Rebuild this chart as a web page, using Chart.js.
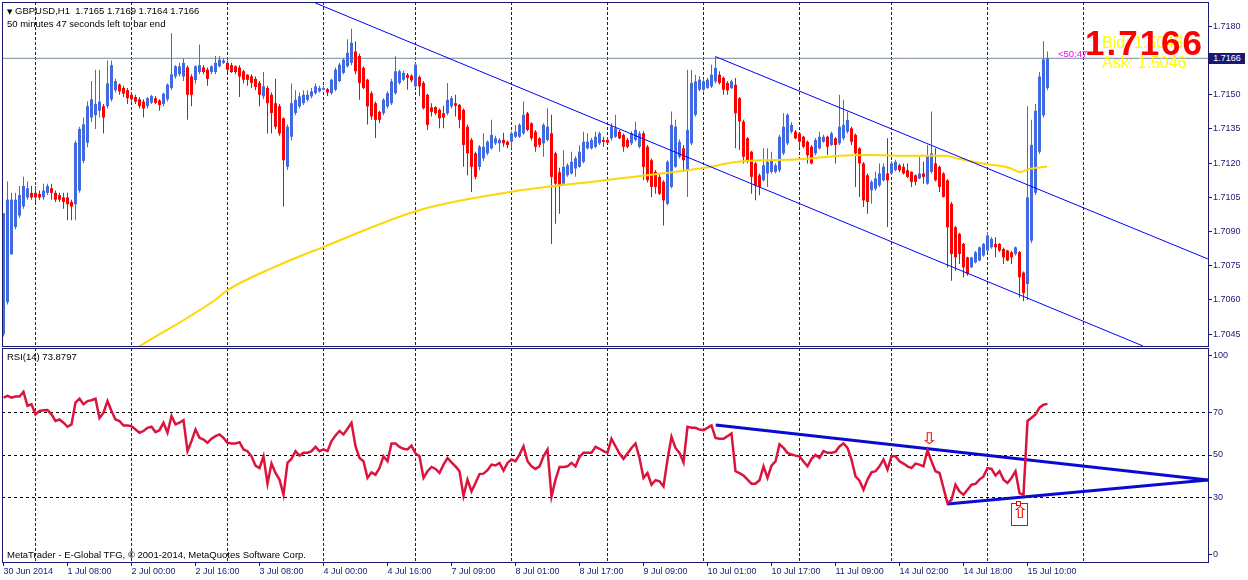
<!DOCTYPE html>
<html>
<head>
<meta charset="utf-8">
<title>GBPUSD,H1</title>
<script src="https://cdn.jsdelivr.net/npm/chart.js@4.4.1/dist/chart.umd.min.js"></script>
<style>
  body { margin: 0; background: #fff; }
  #wrap { position: relative; width: 1248px; height: 580px; overflow: hidden; font-family: "Liberation Sans", Arial, sans-serif; }
  canvas { position: absolute; left: 0; }
  .txt { position: absolute; white-space: nowrap; line-height: 1; pointer-events: none; }
  .arrow { font-family: "DejaVu Sans"; font-size: 16px; color: #ff0000; transform: scaleX(1.35); transform-origin: left top; }
</style>
</head>
<body>
<div id="wrap">
  <canvas id="price-chart" width="1248" height="348" style="top:0"></canvas>
  <canvas id="rsi-chart" width="1248" height="232" style="top:348px"></canvas>

  <div class="txt" style="left:7px;top:6px;font-size:9.5px;color:#000"><span style="font-family:'DejaVu Sans';font-size:7px">&#9660;</span>&nbsp;GBPUSD,H1&nbsp; 1.7165 1.7169 1.7164 1.7166</div>
  <div class="txt" style="left:7px;top:18.7px;font-size:9.5px;color:#000">50 minutes 47 seconds left to bar end</div>
  <div class="txt" style="left:7px;top:352px;font-size:9.5px;color:#000">RSI(14) 73.8797</div>
  <div class="txt" style="left:7px;top:549.7px;font-size:9.5px;color:#000">MetaTrader - E-Global TFG, © 2001-2014, MetaQuotes Software Corp.</div>

  <div class="txt" style="left:1102px;top:35px;font-size:16px;color:#ffff00">Bid: 1.5043</div>
  <div class="txt" style="left:1085px;top:24.7px;font-size:35px;font-weight:bold;letter-spacing:2px;color:#ff0000">1.7166</div>
  <div class="txt" style="left:1102px;top:55px;font-size:16px;color:#ffff00">Ask: 1.5046</div>
  <div class="txt" style="left:1058px;top:48.7px;font-size:9.5px;color:#ff00ff">&lt;50:47</div>
  <div class="txt" style="left:1209px;top:52.5px;width:36px;height:11px;background:#191970;color:#fff;font-size:9px;line-height:11px;text-align:center">1.7166</div>

  <div class="txt arrow" style="left:920px;top:431px">&#8681;</div>
  <div class="txt" style="left:1011px;top:503px;width:17px;height:23px;border:1px solid #ff0000;box-sizing:border-box"></div>
  <div class="txt" style="left:1016px;top:501px;width:5px;height:5px;border:1px solid #ff0000;background:#fff;box-sizing:border-box"></div>
  <div class="txt arrow" style="left:1011px;top:505px">&#8679;</div>
</div>

<script>
// Heiken Ashi bars, in pips above 1.7000
const haOpen = [45,59,80,92,97,101,105,107,107,106.5,
  105,107,109,107,106,105,105,103,102,108,
  121,129,140,141,143,145,145,148,152,154.5,
  153,152,150,149,148,147,145,146.5,148.5,147.5,
  146,148,153,158,159,158,162,158,156.5,160,
  162,161,160,160,162.5,164,164,163,162.5,162,
  160.3,158.8,158.1,157,155.2,149.3,153,150,146.3,145,
  139.7,118.4,131.6,142,144.9,146.3,147.8,149.3,150.7,151.5,
  152.2,152.5,150.7,152.2,156,159.6,162.5,164,169,167,
  161.8,156.6,150.7,146.3,142.5,141.9,144.9,146.3,150.7,155.2,
  156.6,158.8,158.4,153.7,157.8,155.2,150,144.5,144.6,143.4,
  141.9,141.9,144.9,146.3,145.6,143.4,136,130.2,124.3,118.4,
  122.1,124.3,126.5,128.7,128.7,130.2,129.4,129.4,131.6,131.6,
  133.1,141.9,137.5,133.8,130.9,128.7,130.2,133.1,124.3,116,
  111,114.7,115.5,117.7,118.4,120.6,126.5,126.5,127.2,128.7,
  130.2,130.2,130.9,131.6,133.8,132.4,130.2,128.7,130.2,127.2,
  133.1,127.2,121.3,116.2,114,111.8,102.2,109.6,118.4,122.8,
  126.5,116.9,128.7,141.2,152.2,152.2,153,153.7,155.9,158.8,
  157.4,155.2,152.9,154.4,148.5,138.3,130.9,125,119.9,114.7,
  112.5,115.5,116.2,116.2,116.9,124.3,128.7,133.8,133.8,133.1,
  131.6,129.4,127.2,124.3,126.5,129.4,131.6,128,130.9,128.7,
  130.9,133.8,135.3,132.4,126.5,119.9,114.7,108.1,108.8,110.3,
  112.5,115.5,115.5,116.9,119.1,118.4,116.9,116.2,114.7,113.3,
  115.5,111,116.2,119.9,118.4,115.5,112.5,102.2,91.9,89,
  84.6,78.7,74.3,76.5,77.3,79.5,81.7,83.1,84.6,84.6,
  82.4,81.7,80.9,80.2,81,72,67,86,107,125,
  141,153];
const haHigh = [98,112,107,107,110,114,112,110,110,108,
  111,111,111,108,107,107,107,104,130,136,
  140,147,156,161,161,146,165,165,157,155,
  154,153,151,150,149,148,149,150,149.5,148,
  151,155,177,163,164,166,163,159,163,172,
  163,162,163,167,167,166,165,164,163,163,
  161,159,159,158,156,160,154,151,157,146,
  140,137,155,152,151,152,152,153,155,154,
  154,153,157,162,164,166,174.3,179,173.5,168,
  162.5,157,151.5,147,143,148.5,151.5,157,166.9,161,
  160.5,159.5,159,164,158.5,156,150.5,146.3,145,144,
  145.2,155.2,149.5,150,146,144,137,131,125,128,
  133.1,130,139,132,131,133.4,130,134,136.8,137.5,
  147,142.5,138,134.5,131.5,137.5,144.1,141.2,125,118,
  125.7,120,125,123,127.9,133.8,133.1,131,133.8,133.8,
  131.6,131,137.5,141.2,134.5,133,131,134,138.3,134,
  134,128,122,117,115,112.5,121.3,142.7,139,130.5,
  128,161,161,158.8,158.1,157,157.5,163.2,166.9,160.3,
  158,156,156.6,157.4,149,139,131.5,125.5,120.5,115.5,
  126.5,126.5,125,120,132.5,141.9,141.9,138,134.5,133.5,
  132,130,128,131,133.8,132.5,132,133.8,131.5,150,
  147.8,142.7,136,133,127,120.5,115.5,112.5,116.2,119.9,
  119.9,130.9,121,121.5,119.9,119.9,119.9,116.5,115,122.8,
  120.6,128,142.7,126.5,119,116,113,103,92.5,89.5,
  85,79,79,81.5,83.5,85,89.7,87.5,87.5,85,
  83,82,81.5,83.5,81.5,72.5,145,139,146,160,
  173.5,169];
const haLow = [44,58,80,91,96,100,104,104,103,104,
  104,106,104,103,103,100,95,95,95,107,
  120,127,138,135,140,133,144,147,151,150,
  149,146,147,146,144,140,144,146,146,143,
  145,147,152,157,158,156,139,145,155,159,
  159,154,159,159,162,163.5,160,159.5,159,149,
  155,154,153,152,145,148,133,133,135,132,
  101,117,130,141,144,145.5,147,148.5,150,151,
  152,149.5,150,151.5,155.5,159,162,163,159,147.8,
  152.5,137,139,131,137.5,141,144,145.5,150,154.5,
  156,152.2,155.5,153,149.3,143.5,134.6,140.5,141,135.3,
  135.3,141,144,140.5,135.3,118.4,114.7,107.4,113,116.9,
  121,123.5,126,128,125,127.2,126.5,126.5,131,131,
  132.5,134,130,125,127,122.8,129.5,84.6,93.4,97.8,
  110,114,115,114,118,120,126,126,126.5,128,
  127.2,128.5,130,131,130.5,125,126.5,128,129.5,126.5,
  112.5,111.5,105.2,106.6,106,92.7,101.5,109,118,122,
  116.2,105.2,128,140.5,151.5,151.5,152.5,153,155,154.5,
  150,150,152.5,126.5,125.8,119.9,120,106.6,103.7,105.9,
  112,109.6,115.5,115.5,116,123.5,128,133,130.5,126.5,
  126.5,119.9,119.5,123.5,126,129,123.5,127.5,119.9,128,
  130,133,128,109.6,105.2,100.8,97.8,102.2,108,109.5,
  112,92,115,116.5,116,115,113.5,109.6,110.3,113,
  111,110.5,115.5,112,107.4,105,74.3,68.4,72.8,75.8,
  69.9,70.6,74,76,77,79,81,82.5,78.7,81,
  75.8,77,75.8,79.5,61,59.5,60,85,106,124,
  140,152];
const haClose = [98,104,104,104,106,110,109,105,105,105,
  108,110,107,104,104,103,102,101,129,135,
  137,145,148,146,147,140,155,163,156,151.5,
  150.5,148.5,148,147,145,144,148.5,149.5,146.5,145.5,
  150.5,154.5,159,162.5,162.5,164,150,150,162.5,163,
  160,157,162.5,164,165.4,165,161,160,160,158,
  156.6,156.6,155.2,153.4,150,153.7,146.3,142,136,133,
  121.3,136,146.3,147.8,149.3,150,150,151.5,153.7,153,
  153,151,156.6,161,163.2,165.4,168.4,172.8,160.3,155.2,
  153,144.9,140.5,139,139,147.8,150.7,155.9,160.3,160.3,
  159.6,157.4,156.3,163.2,153.7,144.1,136.8,142.5,141.9,139.7,
  140,147.8,148.5,145.2,139,128,124.3,118.4,114,127.2,
  127.2,129.4,132.4,130.9,130.2,128.7,128,133.1,133.8,136.8,
  141.2,134.6,130.9,127.2,128,136.8,136,114,111,110.3,
  118.4,119.1,120.6,122.1,125,129.4,129.4,130.2,131.6,133.1,
  129.4,129,136,135.3,130.9,127.2,127.2,133.1,134.6,133.1,
  118.4,112.5,109.6,109.6,106.6,103.7,120.6,136.8,136,129.4,
  121.3,134.6,155.2,155.9,156.6,155.9,156.6,158.8,161.8,155.2,
  152.2,151.9,155.9,141.9,138.3,122.8,120.6,114,110.3,109.6,
  119.1,120.6,121.3,119.1,131.6,136,141.2,136.8,130.9,129.4,
  127.2,123.5,119.9,130.2,131.6,131.6,127.2,133.1,128,136,
  136.8,139,129.4,124.3,119.9,103.7,103,111.8,113.3,115.5,
  118.4,112.5,119.9,120.6,116.9,115.5,114,111.8,111.8,115.5,
  114,123.5,124.3,112.5,109.6,105.2,91.9,80.2,78.7,80.2,
  74.3,71.4,78.7,80.9,83.1,84.6,88.3,86.8,83.1,81.7,
  78.7,77.3,78.7,83.1,70,63,105,128,143,158,
  165.5,166];

// RSI(14), one value per bar
const rsiValues = [76.8,77.6,76.8,77.3,77.3,79.5,73,73.7,69,70.6,
  70.9,71,69,65.9,66.6,65.1,63.2,64.3,74.5,76.3,
  73.7,75.2,75.6,76.3,67.3,69.8,75.2,70.6,66.6,65.9,
  63.8,63.8,63.5,61.9,60.4,61.2,62.7,63.2,60.7,61.6,
  65.1,60.4,68.2,64.3,65.1,66.3,51.8,56.5,61.9,58,
  57.2,55.7,57.6,58.8,59.6,58,55.7,55.4,55.4,56,
  52.6,51.8,49.4,45,43.9,49.4,36.6,46,41.6,38.5,
  31.4,46.3,48.2,51.8,49.7,51,51,51.8,53.8,51.8,
  52.6,51.8,56.5,59.1,61.2,59.6,62.3,65.1,54.1,48.6,
  47.1,39.3,41.9,40.8,43.9,49.4,47.1,55.4,55.4,53.8,
  52.9,52.6,54.4,50.7,49.4,39.3,42.4,44.4,43.5,41.6,
  45.5,48.6,46.6,44.7,42.4,30.9,38.5,33,36.9,41.1,
  41.3,42.9,45.5,45.1,46.3,42.7,46.3,47.9,47.1,50.2,
  54.1,47.1,44.7,43.5,44.7,49.4,52.6,30.6,38.5,44.4,
  44.4,44.7,46.3,44.7,49.1,51,51,51,53.8,52.9,
  51.8,51,57.6,54.1,50.7,48.2,50.7,53.3,55.4,48.6,
  39.3,41.6,36.1,38.2,37.7,35.3,47.9,58.5,53.3,51,
  46.6,63.2,62.7,62.7,61.9,61.6,62.7,63.8,58,57.6,
  57.6,58.8,60.1,42.4,41.5,40.4,38.5,36.6,36.6,38.2,
  44.7,39.3,45,47,55,53.3,51,50.2,49.7,49.4,
  47,44.7,48.2,50,48.6,51.8,51,51,51.5,54,
  55.4,53.3,47.9,40,38,33.8,38.5,41.9,42.4,44.7,
  47.9,43.2,49.4,49.4,47.1,46,44.7,43.9,46,45.5,
  44.7,52.2,47,42.4,41.6,34.6,27.5,29.1,36.1,33,
  31.4,33.8,36.1,36.5,38.5,40,43.9,43.5,40.4,42.4,
  38.5,36.9,39.3,42.4,32.2,31.4,65.9,67.4,69,72.1,
  73.5,73.9];

// yellow moving average, sampled at a few bars
const maBars = [30, 34.1, 52.9, 56.1, 67.1, 79.9, 104.1, 127.1, 150.9, 174.9, 184.1, 198.9, 209.1, 216.9, 224.1, 235.4, 239.1, 245.4, 251.6, 254.1, 256.6, 260.9];
const maValues = [1.70354, 1.70398, 1.70600, 1.70644, 1.70740, 1.70832, 1.70995, 1.71075, 1.71126, 1.71179, 1.71207, 1.71217, 1.71233, 1.71236, 1.71233, 1.71233, 1.71218, 1.71196, 1.71179, 1.71161, 1.71175, 1.71185];

// trend lines (bar index, value)
const channelLowBars = [77.9, 284.9], channelLowPrices = [1.71903, 1.70398];
const channelHighBars = [178.05, 301.1], channelHighPrices = [1.71667, 1.70780];
const rsiUpperBars = [178.05, 301.1], rsiUpperValues = [64.0, 38.3];
const rsiLowerBars = [235.9, 301.1], rsiLowerValues = [27.1, 38.3];
const bidPrice = 1.7166;

const timeLabels = ['30 Jun 2014', '1 Jul 08:00', '2 Jul 00:00', '2 Jul 16:00', '3 Jul 08:00', '4 Jul 00:00',
  '4 Jul 16:00', '7 Jul 09:00', '8 Jul 01:00', '8 Jul 17:00', '9 Jul 09:00', '10 Jul 01:00',
  '10 Jul 17:00', '11 Jul 09:00', '14 Jul 02:00', '14 Jul 18:00', '15 Jul 10:00'];
const labelBars = [0, 16, 32, 48, 64, 80, 96, 112, 128, 144, 160, 176, 192, 208, 224, 240, 256];
const daySeparators = [8, 32, 56, 80, 103, 127, 151, 175, 199, 222, 246, 270];
const priceTicks = [1.7045, 1.7060, 1.7075, 1.7090, 1.7105, 1.7120, 1.7135, 1.7150, 1.7165, 1.7180];
// MetaTrader pulls the 0 and 100 captions a little inside the window
const rsiTickLabels = ['0', '30', '50', '70', '100'];
const rsiTickPlaces = [3.3, 30, 50, 70, 96.3];
const rsiLevels = [30, 50, 70];

const NAVY = '#191970', BLUE = '#4169e1', RED = '#ff0000';
const toPrice = p => 1.7 + p / 10000;
const isUp = haOpen.map((o, i) => haClose[i] >= o);
const barColor = ctx => isUp[ctx.dataIndex] ? BLUE : RED;
const pts = (xs, ys) => xs.map((x, i) => ({ x: x, y: ys[i] }));

Chart.defaults.font.family = '"Liberation Sans", Arial, sans-serif';
Chart.defaults.font.size = 9;
Chart.defaults.color = NAVY;

const frame = {
  id: 'frame',
  afterDraw(chart) {
    const { ctx, chartArea: a } = chart;
    ctx.save();
    ctx.strokeStyle = NAVY;
    ctx.lineWidth = 1;
    ctx.strokeRect(a.left + 0.5, a.top + 0.5, a.right - a.left, a.bottom - a.top);
    ctx.restore();
  }
};

const noPad = s => { s.paddingTop = 0; s.paddingBottom = 0; s.paddingLeft = 0; s.paddingRight = 0; };

const common = {
  responsive: false,
  animation: false,
  devicePixelRatio: 1,
  events: [],
  plugins: { legend: { display: false }, tooltip: { enabled: false } }
};

new Chart(document.getElementById('price-chart'), {
  data: {
    datasets: [
      { type: 'line', data: pts([-0.375, 301.125], [bidPrice, bidPrice]), borderColor: '#778899', borderWidth: 1, pointRadius: 0, order: 6 },
      { type: 'bar', data: haOpen.map((o, i) => ({ x: i, y: [toPrice(haLow[i]), toPrice(haHigh[i])] })),
        backgroundColor: barColor, barThickness: 1, grouped: false, inflateAmount: 0, borderWidth: 0, order: 5 },
      { type: 'bar', data: haOpen.map((o, i) => ({ x: i, y: [toPrice(o), toPrice(haClose[i])] })),
        backgroundColor: barColor, barThickness: 3, grouped: false, inflateAmount: 0, borderWidth: 0, minBarLength: 1, order: 4 },
      { type: 'line', data: pts(maBars, maValues), borderColor: '#ffd700', borderWidth: 2, pointRadius: 0, cubicInterpolationMode: 'monotone', order: 3 },
      { type: 'line', data: pts(channelLowBars, channelLowPrices), borderColor: '#0000ff', borderWidth: 1, pointRadius: 0, order: 2 },
      { type: 'line', data: pts(channelHighBars, channelHighPrices), borderColor: '#0000ff', borderWidth: 1, pointRadius: 0, order: 2 }
    ]
  },
  options: {
    ...common,
    layout: { padding: { left: 2, top: 2, right: 0, bottom: 2 } },
    scales: {
      x: {
        type: 'linear', min: -0.375, max: 301.125, offset: false,
        ticks: { display: false },
        grid: { color: NAVY, lineWidth: 1, drawTicks: false, offset: false },
        border: { display: false, dash: [3, 2] },
        afterBuildTicks: s => { s.ticks = daySeparators.map(v => ({ value: v })); },
        afterFit: s => { s.height = 0; noPad(s); }
      },
      y: {
        type: 'linear', position: 'right', min: 1.703982, max: 1.719069, beginAtZero: false,
        ticks: { padding: 1, color: NAVY, callback: v => v.toFixed(4) },
        grid: { drawOnChartArea: false, drawTicks: true, tickLength: 4, tickColor: NAVY, color: NAVY },
        border: { display: false },
        afterBuildTicks: s => { s.ticks = priceTicks.map(v => ({ value: v })); },
        afterFit: s => { s.width = 40; noPad(s); }
      }
    }
  },
  plugins: [frame]
});

new Chart(document.getElementById('rsi-chart'), {
  type: 'line',
  data: {
    datasets: [
      { data: rsiValues.map((v, i) => ({ x: i, y: v })), xAxisID: 'x', borderColor: '#dc143c', borderWidth: 2.5, pointRadius: 0, order: 1 },
      { data: pts(rsiUpperBars, rsiUpperValues), xAxisID: 'x', borderColor: '#0a0ad0', borderWidth: 3, pointRadius: 0, order: 2 },
      { data: pts(rsiLowerBars, rsiLowerValues), xAxisID: 'x', borderColor: '#0a0ad0', borderWidth: 3, pointRadius: 0, order: 2 }
    ]
  },
  options: {
    ...common,
    layout: { padding: { left: 2, top: 0, right: 0, bottom: 0 } },
    scales: {
      x: {
        type: 'linear', position: 'bottom', min: -0.375, max: 301.125, offset: false,
        ticks: { autoSkip: false, maxRotation: 0, minRotation: 0, align: 'start', padding: 0, color: NAVY,
          callback: (v, i) => timeLabels[i] },
        grid: { drawOnChartArea: false, drawTicks: true, tickLength: 4, tickColor: NAVY, color: NAVY, offset: false },
        border: { display: false },
        afterBuildTicks: s => { s.ticks = labelBars.map(v => ({ value: v })); },
        afterFit: s => { s.height = 18; noPad(s); }
      },
      xg: {
        axis: 'x', type: 'linear', position: 'top', min: -0.375, max: 301.125, offset: false,
        ticks: { display: false },
        grid: { color: NAVY, lineWidth: 1, drawTicks: false, offset: false },
        border: { display: false, dash: [3, 2] },
        afterBuildTicks: s => { s.ticks = daySeparators.map(v => ({ value: v })); },
        afterFit: s => { s.height = 0; noPad(s); }
      },
      y: {
        type: 'linear', position: 'right', min: 0, max: 100,
        ticks: { padding: 1, color: NAVY, callback: (v, i) => rsiTickLabels[i] },
        grid: {
          color: ctx => (ctx.tick && rsiLevels.includes(ctx.tick.value)) ? '#000000' : 'rgba(0,0,0,0)',
          drawTicks: true, tickLength: 4, tickColor: NAVY
        },
        border: { display: false, dash: [3, 3] },
        afterBuildTicks: s => { s.ticks = rsiTickPlaces.map(v => ({ value: v })); },
        afterFit: s => { s.width = 40; noPad(s); }
      }
    }
  },
  plugins: [frame]
});
</script>
</body>
</html>
